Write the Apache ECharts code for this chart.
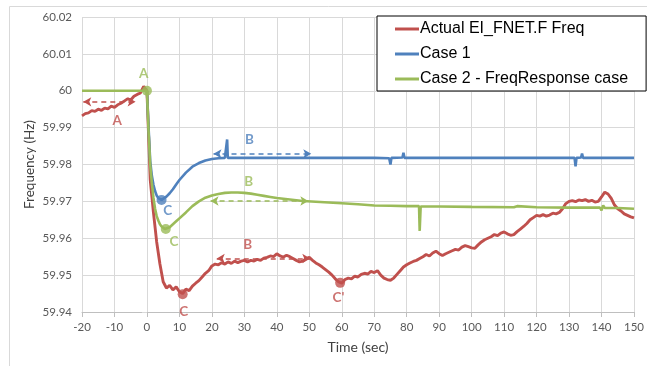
<!DOCTYPE html>
<html>
<head>
<meta charset="utf-8">
<script src="https://cdn.jsdelivr.net/npm/echarts@6/dist/echarts.min.js"></script>
<style>
  html, body { margin: 0; padding: 0; background: #fff; }
  #chart { width: 647px; height: 366px; }
</style>
</head>
<body>
<div id="chart"></div>
<script>
// series names
const SERIES_NAMES = ["Actual EI_FNET.F Freq", "Case 1", "Case 2 - FreqResponse case"];
const COLORS = { actual: "#c0504d", case1: "#4f81bd", case2: "#9bbb59" };

// Actual FNET frequency, one sample per second from t = -20 s
const actualStart = -20;
const actualFreq = [
  59.9932, 59.9938, 59.9940, 59.9946, 59.9944, 59.9950, 59.9947, 59.9953, 59.9951, 59.9958,
  59.9955, 59.9962, 59.9966, 59.9972, 59.9978, 59.9975, 59.9985, 59.9990, 59.9994, 60.0012,
  60.0000, 59.9760, 59.9670, 59.9590, 59.9530, 59.9482, 59.9465, 59.9472, 59.9460, 59.9468,
  59.9455, 59.9450, 59.9462, 59.9458, 59.9470, 59.9478, 59.9485, 59.9495, 59.9505, 59.9512,
  59.9525, 59.9530, 59.9528, 59.9534, 59.9530, 59.9536, 59.9532, 59.9538, 59.9534, 59.9538,
  59.9540, 59.9536, 59.9540, 59.9538, 59.9543, 59.9540, 59.9546, 59.9548, 59.9552, 59.9550,
  59.9558, 59.9552, 59.9549, 59.9554, 59.9550, 59.9545, 59.9540, 59.9536, 59.9538, 59.9545,
  59.9548, 59.9540, 59.9533, 59.9528, 59.9522, 59.9515, 59.9508, 59.9500, 59.9490, 59.9482,
  59.9478, 59.9488, 59.9492, 59.9490, 59.9497, 59.9495, 59.9502, 59.9505, 59.9503, 59.9510,
  59.9507, 59.9512, 59.9500, 59.9492, 59.9488, 59.9486, 59.9492, 59.9502, 59.9512, 59.9522,
  59.9528, 59.9533, 59.9537, 59.9540, 59.9545, 59.9550, 59.9556, 59.9552, 59.9560, 59.9565,
  59.9558, 59.9553, 59.9558, 59.9562, 59.9566, 59.9570, 59.9568, 59.9576, 59.9580, 59.9577,
  59.9574, 59.9573, 59.9582, 59.9590, 59.9596, 59.9600, 59.9604, 59.9610, 59.9607, 59.9614,
  59.9617, 59.9612, 59.9608, 59.9610, 59.9618, 59.9625, 59.9632, 59.9640, 59.9650, 59.9656,
  59.9662, 59.9660, 59.9664, 59.9660, 59.9663, 59.9668, 59.9666, 59.9670, 59.9680, 59.9694,
  59.9700, 59.9702, 59.9699, 59.9704, 59.9702, 59.9705, 59.9700, 59.9703, 59.9698, 59.9700,
  59.9712, 59.9725, 59.9720, 59.9708, 59.9690, 59.9680, 59.9674, 59.9666, 59.9662, 59.9658,
  59.9655
];

// Case 1
const case1Time = [0, 0.5, 1, 1.5, 2, 2.5, 3, 3.5, 4, 4.5, 5, 6, 7, 8, 9, 10, 12, 14, 16, 18, 20, 22, 24,
  24.6, 24.7, 24.9, 30, 40, 50, 60, 70, 74.6, 75, 75.3, 78.7, 79, 79.3, 90, 100, 110, 120, 131.7, 132, 132.3,
  133.7, 134, 134.3, 140, 150];
const case1Freq = [60.0, 59.9900, 59.9810, 59.9770, 59.9745, 59.9728, 59.9716, 59.9709, 59.9705, 59.9704,
  59.9706, 59.9713, 59.9722, 59.9733, 59.9746, 59.9758, 59.9778, 59.9794, 59.9804, 59.9811, 59.9815, 59.9817,
  59.9818, 59.9818, 59.9868, 59.9818, 59.9818, 59.9818, 59.9818, 59.9818, 59.9818, 59.9817, 59.9800, 59.9818,
  59.9819, 59.9832, 59.9818, 59.9818, 59.9818, 59.9818, 59.9818, 59.9818, 59.9795, 59.9818, 59.9819, 59.9830,
  59.9818, 59.9818, 59.9818];

// Case 2 - FreqResponse case
const case2Time = [-20, 0, 0.5, 1, 1.5, 2, 2.5, 3, 3.5, 4, 4.5, 5, 5.5, 6, 7, 8, 9, 10, 12, 14, 16, 18, 20,
  22, 24, 26, 28, 30, 32, 34, 36, 38, 40, 44, 48, 52, 56, 60, 65, 70, 75, 80, 83.8, 84, 84.3, 90, 100, 113,
  113.5, 114, 114.5, 120, 130, 139.5, 140, 140.5, 141, 145, 150];
const case2Freq = [60.0, 60.0, 59.9890, 59.9800, 59.9750, 59.9710, 59.9680, 59.9660, 59.9648, 59.9638,
  59.9632, 59.9627, 59.9625, 59.9625, 59.9630, 59.9638, 59.9646, 59.9654, 59.9670, 59.9687, 59.9700, 59.9710,
  59.9716, 59.9720, 59.9723, 59.9724, 59.9724, 59.9723, 59.9721, 59.9718, 59.9715, 59.9712, 59.9709, 59.9705,
  59.9701, 59.9699, 59.9697, 59.9695, 59.9692, 59.9689, 59.9688, 59.9687, 59.9687, 59.9620, 59.9686, 59.9686,
  59.9685, 59.9684, 59.9681, 59.9687, 59.9684, 59.9684, 59.9683, 59.9683, 59.9676, 59.9689, 59.9682, 59.9682,
  59.9680];

// point markers (A / C / C')
const markerSeries = ["case2", "case1", "case2", "actual", "actual"];
const markerTime = [0, 4.5, 5.8, 11, 59.5];
const markerFreq = [60.0, 59.9704, 59.9625, 59.9448, 59.9479];

// letter annotations
const labelText = ["A", "A", "B", "B", "B", "C", "C", "C", "C'"];
const labelSeries = ["case2", "actual", "case1", "case2", "actual", "case1", "case2", "actual", "actual"];
const labelTime = [-1, -9.2, 31.6, 31.3, 31, 6.4, 8.3, 11.3, 59];
const labelFreq = [60.0046, 59.992, 59.9868, 59.9754, 59.9583, 59.9676, 59.9592, 59.9400, 59.9440];

// dashed double arrows [series, t from, t to, freq]
const arrowSeries = ["actual", "case1", "case2", "actual"];
const arrowFrom = [-19.6, 20.5, 19.6, 21.5];
const arrowTo = [-3.5, 50.6, 49.7, 50.3];
const arrowFreq = [59.9970, 59.9829, 59.9701, 59.9545];

const xTicks = { min: -20, max: 150, interval: 10 };
const yTicks = { min: 59.94, max: 60.02, interval: 0.01 };

const chart = echarts.init(document.getElementById("chart"));

const arrowsFor = (key) =>
  arrowSeries
    .map((s, i) => (s === key ? [{ coord: [arrowFrom[i], arrowFreq[i]] }, { coord: [arrowTo[i], arrowFreq[i]] }] : null))
    .filter(Boolean);

const mkLine = (name, key, data, width) => ({
  name,
  type: "line",
  data,
  showSymbol: false,
  symbol: "none",
  color: COLORS[key],
  lineStyle: { width, color: COLORS[key] },
  markLine: {
    silent: true,
    symbol: ["arrow", "arrow"],
    symbolSize: [7, 8],
    label: { show: false },
    lineStyle: { type: [5, 4], width: 1.5, color: COLORS[key] },
    data: arrowsFor(key),
  },
});

chart.setOption({
  animation: false,
  graphic: [
    {
      type: "rect",
      left: 7,
      top: 4,
      shape: { width: 700, height: 400 },
      style: { fill: "none", stroke: "#d9d9d9", lineWidth: 1 },
      z: -10,
    },
  ],
  grid: { left: 82, right: 10, top: 17, bottom: 54 },
  legend: {
    data: SERIES_NAMES,
    orient: "vertical",
    left: 377,
    top: 16,
    backgroundColor: "#fff",
    borderColor: "#000",
    borderWidth: 1,
    padding: [5, 18, 4, 18],
    itemWidth: 24,
    itemHeight: 3,
    itemGap: 9,
    icon: "rect",
    textStyle: { fontFamily: "Liberation Sans", fontSize: 16, color: "#000", padding: [0, 0, 0, -4] },
  },
  xAxis: {
    type: "value",
    min: xTicks.min,
    max: xTicks.max,
    interval: xTicks.interval,
    name: "Time (sec)",
    nameLocation: "middle",
    nameGap: 28,
    nameMoveOverlap: false,
    nameTextStyle: { fontFamily: "Lato", fontSize: 14, color: "#404040" },
    axisLine: { lineStyle: { color: "#bfbfbf" } },
    axisTick: { show: true, length: 5, lineStyle: { color: "#bfbfbf" } },
    axisLabel: { fontFamily: "Lato", fontSize: 11.5, color: "#595959", margin: 9 },
    splitLine: { lineStyle: { color: "#d9d9d9" } },
  },
  yAxis: {
    type: "value",
    min: yTicks.min,
    max: yTicks.max,
    interval: yTicks.interval,
    name: "Frequency (Hz)",
    nameLocation: "middle",
    nameGap: 45,
    nameMoveOverlap: false,
    nameTextStyle: { fontFamily: "Lato", fontSize: 13.5, color: "#404040" },
    axisLine: { show: true, lineStyle: { color: "#d9d9d9" } },
    axisTick: { show: true, length: 5, lineStyle: { color: "#d9d9d9" } },
    axisLabel: {
      fontFamily: "Lato",
      fontSize: 11.5,
      color: "#595959",
      margin: 10,
      formatter: (v) => String(parseFloat(v.toFixed(2))),
    },
    splitLine: { lineStyle: { color: "#d9d9d9" } },
  },
  series: [
    mkLine(SERIES_NAMES[0], "actual", actualFreq.map((v, i) => [actualStart + i, v]), 2.9),
    mkLine(SERIES_NAMES[1], "case1", case1Time.map((t, i) => [t, case1Freq[i]]), 2.6),
    mkLine(SERIES_NAMES[2], "case2", case2Time.map((t, i) => [t, case2Freq[i]]), 2.6),
    {
      name: "markers",
      type: "scatter",
      symbolSize: 10,
      clip: false,
      data: markerTime.map((t, i) => ({
        value: [t, markerFreq[i]],
        itemStyle: { color: COLORS[markerSeries[i]] },
      })),
      z: 5,
    },
    {
      name: "letters",
      type: "scatter",
      symbolSize: 0,
      clip: false,
      data: labelTime.map((t, i) => ({
        value: [t, labelFreq[i]],
        label: {
          show: true,
          position: "inside",
          formatter: labelText[i],
          fontFamily: "Lato",
          fontWeight: "bold",
          fontSize: 13.5,
          color: COLORS[labelSeries[i]],
        },
      })),
      z: 6,
    },
  ],
});
</script>
</body>
</html>
